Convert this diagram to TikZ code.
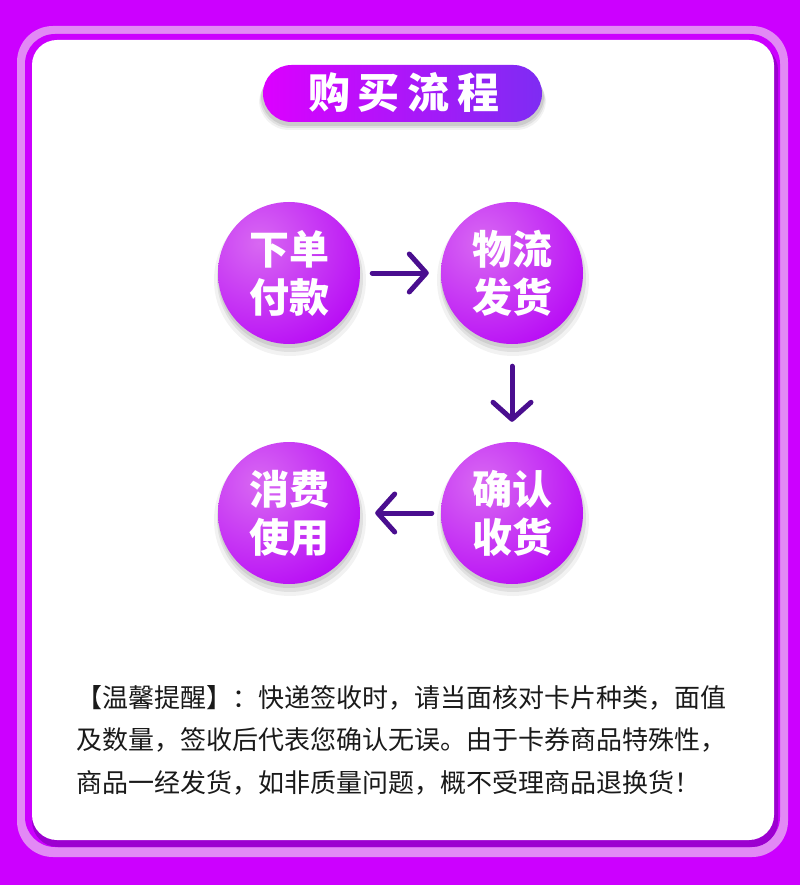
\documentclass[tikz,border=0pt]{standalone}
\usepackage{fontspec}
\newfontfamily\cjk{Noto Sans CJK SC}
\usetikzlibrary{arrows.meta}
\definecolor{bgp}{HTML}{CC00FF}
\definecolor{lightband}{HTML}{E289F5}
\definecolor{shadowp}{HTML}{9C00D0}
\definecolor{pillL}{HTML}{DC00FF}
\definecolor{pillR}{HTML}{7E2CF3}
\definecolor{circL}{HTML}{D868F2}
\definecolor{circD}{HTML}{B400F6}
\definecolor{arrowc}{HTML}{4A0E8F}
\definecolor{textc}{HTML}{1A1A1A}
\tikzset{
  stepcirc/.style={circle, minimum size=142pt, inner sep=0pt, text=white,
    align=center, font=\cjk\bfseries\fontsize{40}{48}\selectfont,
    path picture={\shade[inner color=circL, outer color=circD]
      ([shift={(-30pt,30pt)}]path picture bounding box.center) circle (130pt);}},
  arr/.style={draw=arrowc, line width=5pt, line cap=round,
    -{Straight Barb[length=17pt, width=38pt, round]}},
}
\begin{document}
\begin{tikzpicture}[x=1pt,y=-1pt]
\useasboundingbox (0,0) rectangle (800,885);
% background and frame
\fill[bgp] (0,0) rectangle (800,885);
\fill[lightband, rounded corners=36pt] (17,26) rectangle (788,857);
\fill[bgp, rounded corners=30pt] (25,34) rectangle (780,847);
\fill[shadowp, rounded corners=26pt] (32,44) rectangle (778,847);
\fill[white, rounded corners=25pt] (32,40) rectangle (774,840);
% title pill shadow
\foreach \o/\a in {8/0.05,6/0.07,4/0.09}{
  \fill[black, opacity=\a, rounded corners=30pt] (263-\o/2,65+\o) rectangle (542+\o/2,122+\o);
}
\shade[left color=pillL, right color=pillR, rounded corners=28.5pt] (263,65) rectangle (542,122);
\node[text=white, font=\cjk\bfseries\fontsize{42}{42}\selectfont] (title) at (404,93) {购\hspace{8pt}买\hspace{8pt}流\hspace{8pt}程};
% circle shadows
\foreach \cx/\cy in {289/273,512/273,512/513,289/513}{
  \fill[black, opacity=0.05] (\cx+1,\cy+7) circle (76);
  \fill[black, opacity=0.07] (\cx+1,\cy+6) circle (73);
  \fill[black, opacity=0.08] (\cx,\cy+4) circle (71);
}
% circles
\node[stepcirc] (c1) at (289,273) {下单\\付款};
\node[stepcirc] (c2) at (512,273) {物流\\发货};
\node[stepcirc] (c3) at (512,513) {确认\\收货};
\node[stepcirc] (c4) at (289,513) {消费\\使用};
% arrows
\draw[arr, shorten <=12pt, shorten >=12pt] (c1) -- (c2);
\draw[arr, shorten <=22pt, shorten >=20pt] (c2) -- (c3);
\draw[arr, shorten <=9pt, shorten >=15pt] (c3) -- (c4);
% note
\node[anchor=west, align=left, text=textc, inner sep=0pt,
  font=\cjk\fontsize{26}{42.5}\selectfont] (note) at (76,740)
  {【温馨提醒】：快递签收时，请当面核对卡片种类，面值\\
   及数量，签收后代表您确认无误。由于卡券商品特殊性，\\
   商品一经发货，如非质量问题，概不受理商品退换货！};
\end{tikzpicture}
\end{document}
